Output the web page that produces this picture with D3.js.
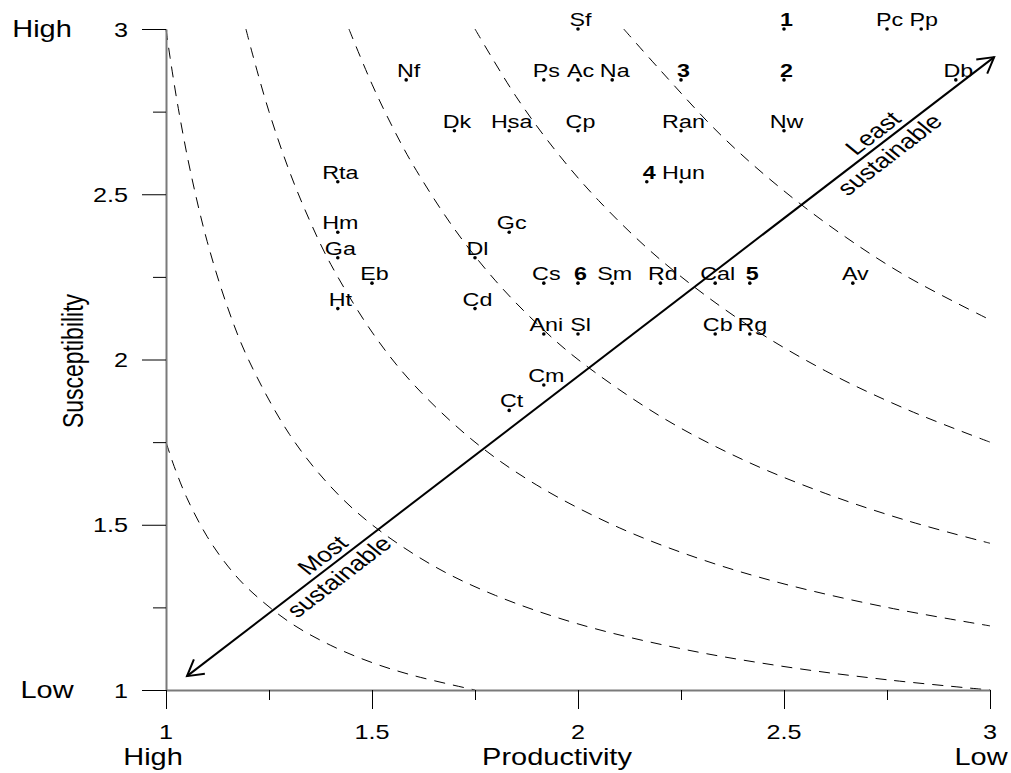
<!DOCTYPE html>
<html>
<head>
<meta charset="utf-8">
<script src="https://cdn.jsdelivr.net/npm/d3@7"></script>
<style>
  body { margin: 0; background: #fff; }
  svg { display: block; }
  text { font-family: "Liberation Sans", Arial, Helvetica, sans-serif; fill: #000; }
</style>
</head>
<body>
<svg id="chart" width="1011" height="773"></svg>
<script>
// species codes and their (productivity, susceptibility) scores
const species = ['Sf', '1', 'Pc', 'Pp',
  'Nf', 'Ps', 'Ac', 'Na', '3', '2', 'Db',
  'Dk', 'Hsa', 'Cp', 'Ran', 'Nw',
  'Rta', '4', 'Hun',
  'Hm', 'Gc',
  'Ga', 'Dl',
  'Eb', 'Cs', '6', 'Sm', 'Rd', 'Cal', '5', 'Av',
  'Ht', 'Cd',
  'Ani', 'Sl', 'Cb', 'Rg',
  'Cm', 'Ct'];
const productivity = [2.0, 2.5, 2.75, 2.833,
  1.583, 1.917, 2.0, 2.083, 2.25, 2.5, 2.917,
  1.7, 1.833, 2.0, 2.25, 2.5,
  1.417, 2.167, 2.25,
  1.417, 1.833,
  1.417, 1.75,
  1.5, 1.917, 2.0, 2.083, 2.2, 2.333, 2.417, 2.667,
  1.417, 1.75,
  1.917, 2.0, 2.333, 2.417,
  1.917, 1.833];
const susceptibility = [3, 3, 3, 3,
  2.846, 2.846, 2.846, 2.846, 2.846, 2.846, 2.846,
  2.692, 2.692, 2.692, 2.692, 2.692,
  2.538, 2.538, 2.538,
  2.385, 2.385,
  2.308, 2.308,
  2.231, 2.231, 2.231, 2.231, 2.231, 2.231, 2.231, 2.231,
  2.154, 2.154,
  2.077, 2.077, 2.077, 2.077,
  1.923, 1.846];

const majorTicks = [1, 1.5, 2, 2.5, 3];
const minorTicks = [1.25, 1.75, 2.25, 2.75];

// dashed iso-lines, points
const contour1 = [[1, 1.75], [1.01, 1.712], [1.02, 1.676], [1.05, 1.583], [1.1, 1.464], [1.15, 1.375],
  [1.2, 1.306], [1.3, 1.205], [1.4, 1.135], [1.5, 1.083], [1.6, 1.044], [1.75, 1.0]];
const contour2 = [[1, 3], [1.01, 2.913], [1.03, 2.759], [1.06, 2.565], [1.1, 2.357], [1.15, 2.156],
  [1.2, 2.0], [1.3, 1.773], [1.4, 1.615], [1.5, 1.5], [1.65, 1.375], [1.8, 1.286], [2.0, 1.2],
  [2.25, 1.125], [2.5, 1.071], [2.75, 1.031], [3, 1.0]];
const contour3 = [[1.194, 3], [1.21, 2.924], [1.25, 2.75], [1.3, 2.568], [1.35, 2.417], [1.4, 2.288],
  [1.5, 2.083], [1.6, 1.926], [1.75, 1.75], [1.9, 1.62], [2.1, 1.491], [2.3, 1.395], [2.5, 1.321],
  [2.75, 1.25], [3, 1.194]];
const contour4 = [[1.444, 3], [1.5, 2.833], [1.55, 2.703], [1.6, 2.588], [1.7, 2.395], [1.8, 2.238],
  [1.9, 2.109], [2.0, 2.0], [2.2, 1.828], [2.4, 1.697], [2.6, 1.595], [2.8, 1.512], [3, 1.444]];
const contour5 = [[1.75, 3], [1.85, 2.795], [1.95, 2.625], [2.05, 2.481], [2.2, 2.302], [2.4, 2.114],
  [2.6, 1.966], [2.8, 1.848], [3, 1.75]];
const contour6 = [[2.111, 3], [2.2, 2.875], [2.35, 2.675], [2.5, 2.51], [2.65, 2.37], [2.8, 2.25], [3, 2.12]];

// double-headed arrow, data coords of its two tips
const arrowTips = [[1.051, 1.042], [3.01, 2.915]];

const SX = 1.26; // the picture's text is wider than normal Arial

const svg = d3.select('#chart');
const x = d3.scaleLinear().domain([1, 3]).range([166, 990]);
const y = d3.scaleLinear().domain([1, 3]).range([690, 29]);

function label(g, px, py, str, size, opts = {}) {
  const rot = opts.rot != null ? ` rotate(${opts.rot})` : '';
  return g.append('text')
    .attr('transform', `translate(${px},${py}) scale(${SX},1)${rot}`)
    .attr('text-anchor', opts.anchor || 'middle')
    .attr('dy', opts.dy || null)
    .style('font-size', size + 'px')
    .style('font-weight', opts.bold ? 'bold' : null)
    .text(str);
}

// contours
const line = d3.line().x(d => x(d[0])).y(d => y(d[1])).curve(d3.curveCatmullRom.alpha(0.5));
svg.append('g').selectAll('path')
  .data([contour1, contour2, contour3, contour4, contour5, contour6])
  .join('path')
  .attr('d', line)
  .attr('fill', 'none')
  .attr('stroke', '#000')
  .attr('stroke-width', 1)
  .attr('stroke-dasharray', '11,8');

// axes
const yAxisG = svg.append('g').attr('transform', `translate(${x(1)},0)`);
yAxisG.call(d3.axisLeft(y).tickValues(majorTicks).tickSize(24).tickSizeOuter(0).tickFormat(''));
yAxisG.append('g').call(d3.axisLeft(y).tickValues(minorTicks).tickSize(13).tickSizeOuter(0).tickFormat(''))
  .select('.domain').remove();
const xAxisG = svg.append('g').attr('transform', `translate(0,${y(1)})`);
xAxisG.call(d3.axisBottom(x).tickValues(majorTicks).tickSize(19).tickSizeOuter(0).tickFormat(''));
xAxisG.append('g').call(d3.axisBottom(x).tickValues(minorTicks).tickSize(10).tickSizeOuter(0).tickFormat(''))
  .select('.domain').remove();
svg.selectAll('.domain').attr('stroke', '#7a7a7a').attr('stroke-width', 2);
svg.selectAll('.tick line').attr('stroke', '#000');

const fmt = d => String(d);
majorTicks.forEach(t => {
  label(svg, 128, y(t) + 7.5, fmt(t), 20, { anchor: 'end' });
  label(svg, x(t), 739, fmt(t), 20);
});

label(svg, 42, 37, 'High', 23);
label(svg, 47, 698, 'Low', 23);
label(svg, 153, 765, 'High', 23);
label(svg, 557, 765, 'Productivity', 23);
label(svg, 981, 765, 'Low', 23);
label(svg, 83, 361, 'Susceptibility', 23, { rot: -90 });

// arrow
const a0 = [x(arrowTips[0][0]), y(arrowTips[0][1])];
const a1 = [x(arrowTips[1][0]), y(arrowTips[1][1])];
const arrowG = svg.append('g').attr('stroke', '#000').attr('stroke-width', 2).attr('fill', 'none');
arrowG.append('line').attr('x1', a0[0]).attr('y1', a0[1]).attr('x2', a1[0]).attr('y2', a1[1]);
function head(tip, from) {
  const ang = Math.atan2(from[1] - tip[1], from[0] - tip[0]);
  const len = 18, spread = Math.PI / 6;
  const p1 = [tip[0] + len * Math.cos(ang + spread), tip[1] + len * Math.sin(ang + spread)];
  const p2 = [tip[0] + len * Math.cos(ang - spread), tip[1] + len * Math.sin(ang - spread)];
  arrowG.append('path').attr('d', `M${p1}L${tip}L${p2}`);
}
head(a0, a1);
head(a1, a0);

// arrow captions, rotated along the arrow
const dxA = a1[0] - a0[0], dyA = a1[1] - a0[1];
const lenA = Math.hypot(dxA, dyA);
const nx = dyA / lenA, ny = -dxA / lenA; // normal pointing up-left
const rotPre = Math.atan2(dyA, dxA / SX) * 180 / Math.PI;
function caption(t, top, bottom) {
  const cx = a0[0] + t * dxA, cy = a0[1] + t * dyA;
  const off = 13.5;
  label(svg, cx + off * nx, cy + off * ny, top, 21, { rot: rotPre, dy: '0.35em' });
  label(svg, cx - off * nx, cy - off * ny, bottom, 21, { rot: rotPre, dy: '0.35em' });
}
caption(0.178, 'Most', 'sustainable');
caption(0.86, 'Least', 'sustainable');

// points and their labels
const pts = species.map((s, i) => ({ s, p: productivity[i], q: susceptibility[i] }));
const ptG = svg.append('g');
ptG.selectAll('circle').data(pts).join('circle')
  .attr('cx', d => x(d.p)).attr('cy', d => y(d.q)).attr('r', 1.8).attr('fill', '#000');
pts.forEach(d => {
  label(ptG, x(d.p) + 2.5, y(d.q) - 3, d.s, 18.5, { bold: /^\d$/.test(d.s) });
});
</script>
</body>
</html>
